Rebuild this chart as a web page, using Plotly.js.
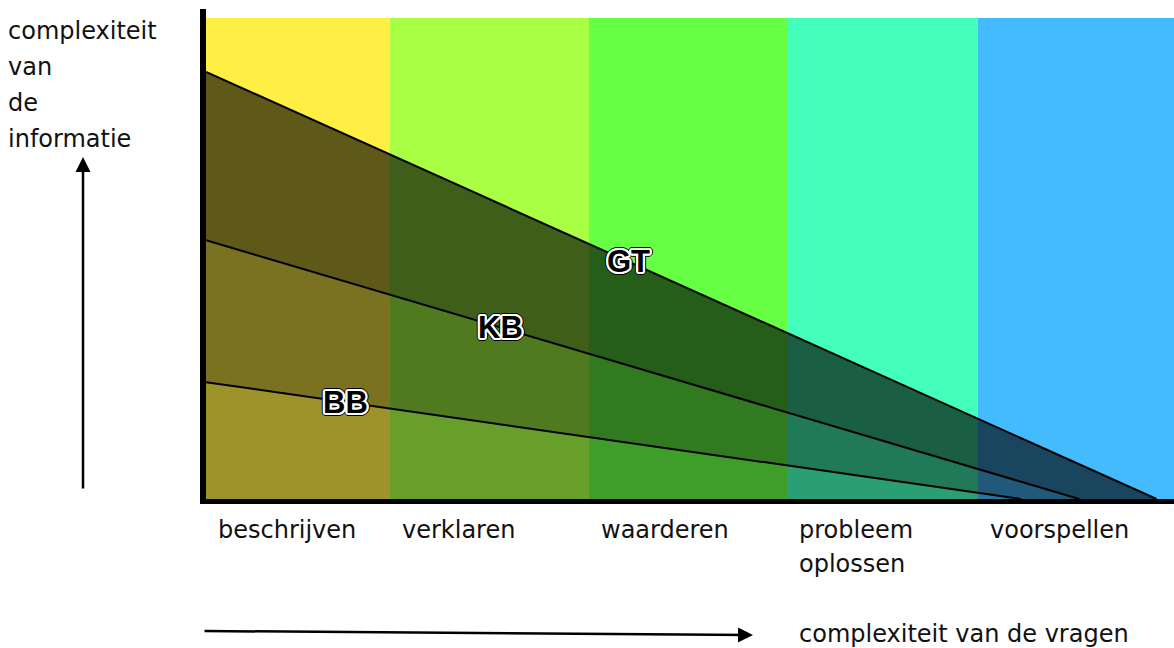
<!DOCTYPE html>
<html><head><meta charset="utf-8">
<script src="https://cdn.plot.ly/plotly-3.0.1.min.js"></script>
<style>html,body{margin:0;padding:0;background:#fff}</style>
</head><body>
<div id="chart" style="width:1174px;height:648px"></div>
<script>
// categories (question types) and band edges along the x scale
const categories = ["beschrijven", "verklaren", "waarderen", "probleem<br>oplossen", "voorspellen"];
const bandEdges = [0, 0.95, 1.98, 3.0, 3.99, 5];
const bandColors = ["#FFEE44", "#A8FF44", "#66FF44", "#44FFBB", "#44BBFF"];
const bandTop = 10;

// series: start height at left edge, x where it reaches zero
const seriesNames = ["BB", "KB", "GT"];
const seriesStart = [2.43, 5.38, 8.88];
const seriesEnd = [4.21, 4.51, 4.91];
const seriesShade = [0.38, 0.52, 0.63];
const labelX = [0.72, 1.52, 2.18];

const yTitleLines = ["complexiteit", "van", "de", "informatie"];
const xTitle = "complexiteit van de vragen";

const FONT = "DejaVu Sans, Verdana, sans-serif";
const traces = [];

// colour bands
const centers = [], widths = [], heights = [];
for (let i = 0; i < categories.length; i++) {
  centers.push((bandEdges[i] + bandEdges[i + 1]) / 2);
  widths.push(bandEdges[i + 1] - bandEdges[i]);
  heights.push(bandTop);
}
traces.push({type: "bar", x: centers, y: heights, width: widths,
  marker: {color: bandColors, line: {width: 0}}, hoverinfo: "skip", showlegend: false});

// shaded regions and lines
for (let i = 0; i < seriesNames.length; i++) {
  traces.push({type: "scatter", mode: "lines",
    x: [0, seriesEnd[i]], y: [seriesStart[i], 0],
    fill: i === 0 ? "tozeroy" : "tonexty",
    fillcolor: "rgba(0,0,0," + seriesShade[i] + ")",
    line: {color: "#000", width: 2}, hoverinfo: "skip", showlegend: false, name: seriesNames[i]});
}

const annotations = [];
const w = [], b = [];
for (let dx = -4; dx <= 4; dx++) for (let dy = -4; dy <= 4; dy++) {
  const r = Math.sqrt(dx * dx + dy * dy);
  if (r > 0 && r <= 2.5) w.push(dx + "px " + dy + "px 0 #fff");
  else if (r > 2.5 && r <= 3.6) b.push(dx + "px " + dy + "px 0 #000");
}
const shadow = w.concat(b).join(", ");
for (let i = 0; i < seriesNames.length; i++) {
  const yv = seriesStart[i] * (1 - labelX[i] / seriesEnd[i]);
  annotations.push({x: labelX[i], y: yv, xref: "x", yref: "y", text: "<b>" + seriesNames[i] + "</b>",
    showarrow: false, xanchor: "center", yanchor: "middle",
    font: {family: "Liberation Sans, Arial, sans-serif", size: 31, color: "#000", weight: 900, shadow: shadow}});
}

// category labels
categories.forEach((c, i) => {
  c.split("<br>").forEach((line, j) => {
    annotations.push({x: bandEdges[i], y: 0, xref: "x", yref: "paper", text: line, showarrow: false,
      xanchor: "left", yanchor: "top", xshift: 10, yshift: -15 - 34 * j,
      font: {family: FONT, size: 24, color: "#111"}});
  });
});

// y title lines
yTitleLines.forEach((t, j) => {
  annotations.push({x: 0, y: 1, xref: "paper", yref: "paper", text: t, showarrow: false,
    xanchor: "left", yanchor: "top", xshift: -200, yshift: 3 - 36 * j,
    font: {family: FONT, size: 24, color: "#111"}});
});

// up arrow
annotations.push({x: (83 - 206) / 968, y: (499 - 157) / 481, xref: "paper", yref: "paper", text: "",
  showarrow: true, arrowhead: 2, arrowsize: 1.2, arrowwidth: 2.5, arrowcolor: "#000",
  ax: 0, ay: 333});
// right arrow
annotations.push({x: (753 - 206) / 968, y: (499 - 635) / 481, xref: "paper", yref: "paper", text: "",
  showarrow: true, arrowhead: 2, arrowsize: 1.2, arrowwidth: 2.5, arrowcolor: "#000",
  ax: -550, ay: -4});
annotations.push({x: (797 - 206) / 968, y: (499 - 634) / 481, xref: "paper", yref: "paper", text: xTitle,
  showarrow: false, xanchor: "left", yanchor: "middle", font: {family: FONT, size: 24, color: "#111"}});

const layout = {
  width: 1174, height: 648,
  margin: {l: 206, r: 0, t: 18, b: 149, pad: 0},
  paper_bgcolor: "#fff", plot_bgcolor: "#fff",
  showlegend: false, bargap: 0,
  xaxis: {range: [0, 5], showgrid: false, zeroline: false, showticklabels: false, ticks: "", fixedrange: true},
  yaxis: {range: [0, 10], showgrid: false, zeroline: false, showticklabels: false, ticks: "", fixedrange: true},
  shapes: [
    {type: "rect", xref: "paper", yref: "paper", x0: -6 / 968, x1: 0, y0: -5 / 481, y1: 490 / 481,
      fillcolor: "#000", line: {width: 0}, layer: "above"},
    {type: "rect", xref: "paper", yref: "paper", x0: -6 / 968, x1: 1, y0: -5 / 481, y1: 0,
      fillcolor: "#000", line: {width: 0}, layer: "above"}
  ],
  annotations: annotations
};
Plotly.newPlot("chart", traces, layout, {displayModeBar: false, staticPlot: true});
</script>
</body></html>
